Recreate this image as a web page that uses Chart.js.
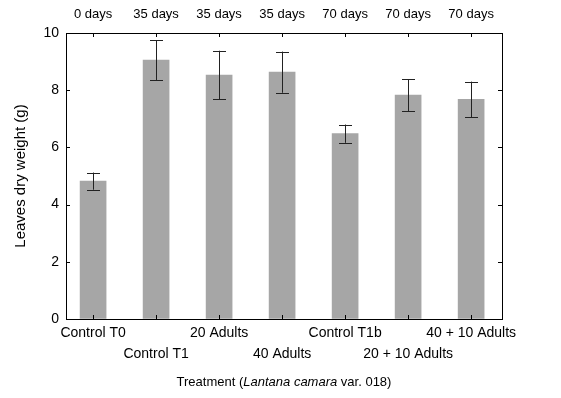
<!DOCTYPE html>
<html><head><meta charset="utf-8">
<script src="https://cdn.jsdelivr.net/npm/chart.js@4"></script>
<style>html,body{margin:0;padding:0;background:#fff}#wrap{width:561px;height:398px}</style>
</head><body><div id="wrap"><canvas id="c" width="561" height="398"></canvas></div>
<script>
// Leaves dry weight by treatment, mean with error bars
const treatments = ['Control T0', 'Control T1', '20 Adults', '40 Adults', 'Control T1b', '20 + 10 Adults', '40 + 10 Adults'];
const periods = ['0 days', '35 days', '35 days', '35 days', '70 days', '70 days', '70 days'];
const dryWeight = [4.82, 9.05, 8.53, 8.63, 6.48, 7.83, 7.68];
const errHalf = [0.30, 0.70, 0.85, 0.72, 0.32, 0.56, 0.62];
const yTickValues = [0, 2, 4, 6, 8, 10];

const FONT = 'Liberation Sans, Arial, sans-serif';
const catTicks = s => { s.ticks = treatments.map((_, i) => ({ value: i })); };

// Inward tick marks, error bars and the mixed-style x title
const decorations = {
  id: 'decorations',
  afterDatasetsDraw(chart) {
    const { ctx, chartArea: a, scales } = chart;
    const x = scales.x, y = scales.y;
    ctx.save();
    // error bars
    ctx.strokeStyle = '#222';
    ctx.lineWidth = 1;
    dryWeight.forEach((v, i) => {
      const px = Math.round(x.getPixelForValue(i)) + 0.5;
      const top = y.getPixelForValue(v + errHalf[i]);
      const bot = y.getPixelForValue(v - errHalf[i]);
      ctx.beginPath();
      ctx.moveTo(px, top); ctx.lineTo(px, bot);
      ctx.moveTo(px - 6.5, Math.round(top) + 0.5); ctx.lineTo(px + 6.5, Math.round(top) + 0.5);
      ctx.moveTo(px - 6.5, Math.round(bot) + 0.5); ctx.lineTo(px + 6.5, Math.round(bot) + 0.5);
      ctx.stroke();
    });
    // inward ticks
    ctx.strokeStyle = '#000';
    const t = 4;
    ctx.beginPath();
    treatments.forEach((_, i) => {
      const px = Math.round(x.getPixelForValue(i)) + 0.5;
      ctx.moveTo(px, a.top); ctx.lineTo(px, a.top + t);
      ctx.moveTo(px, a.bottom); ctx.lineTo(px, a.bottom - t);
    });
    yTickValues.forEach(v => {
      const py = Math.round(y.getPixelForValue(v)) + 0.5;
      ctx.moveTo(a.left, py); ctx.lineTo(a.left + t, py);
      ctx.moveTo(a.right, py); ctx.lineTo(a.right - t, py);
    });
    ctx.stroke();
    // x title with italic species name
    const parts = [
      ['Treatment (', 'normal'],
      ['Lantana camara', 'italic'],
      [' var. 018)', 'normal']
    ];
    ctx.fillStyle = '#000';
    ctx.textBaseline = 'middle';
    ctx.textAlign = 'left';
    let total = 0;
    parts.forEach(p => { ctx.font = p[1] + ' 13px ' + FONT; total += ctx.measureText(p[0]).width; });
    let cx = (a.left + a.right) / 2 - total / 2;
    parts.forEach(p => {
      ctx.font = p[1] + ' 13px ' + FONT;
      ctx.fillText(p[0], cx, 382);
      cx += ctx.measureText(p[0]).width;
    });
    ctx.restore();
  }
};

new Chart(document.getElementById('c'), {
  type: 'bar',
  data: {
    datasets: [{
      data: dryWeight.map((v, i) => ({ x: i, y: v })),
      backgroundColor: '#a6a6a6',
      barThickness: 26
    }]
  },
  options: {
    responsive: false,
    animation: false,
    layout: { padding: 0 },
    plugins: { legend: { display: false }, tooltip: { enabled: false } },
    scales: {
      x: {
        type: 'linear', position: 'bottom', min: -0.43, max: 6.49, offset: false,
        afterBuildTicks: catTicks,
        afterFit: s => { s.height = 79; },
        grid: { drawOnChartArea: false, drawTicks: false, offset: false },
        border: { color: '#000', width: 1 },
        ticks: {
          autoSkip: false, maxRotation: 0, padding: 4, color: '#000',
          font: { family: FONT, size: 14, lineHeight: 1.5 },
          callback: v => (v % 2 ? ['', treatments[v]] : treatments[v])
        }
      },
      xTop: {
        type: 'linear', position: 'top', min: -0.43, max: 6.49, offset: false,
        afterBuildTicks: catTicks,
        afterFit: s => { s.height = 33; },
        grid: { drawOnChartArea: false, drawTicks: false, offset: false },
        border: { color: '#000', width: 1 },
        ticks: {
          autoSkip: false, maxRotation: 0, padding: 11, color: '#000',
          font: { family: FONT, size: 13 },
          callback: v => periods[v]
        }
      },
      y: {
        position: 'left', min: 0, max: 10,
        afterFit: s => { s.width = 66; },
        grid: { drawOnChartArea: false, drawTicks: false },
        border: { color: '#000', width: 1 },
        ticks: { stepSize: 2, padding: 7, color: '#000', font: { family: FONT, size: 14 } },
        title: { display: true, text: 'Leaves dry weight (g)', color: '#000', font: { family: FONT, size: 15 }, padding: { top: 12, bottom: 0 } }
      },
      yR: {
        position: 'right', min: 0, max: 10,
        afterFit: s => { s.width = 59; },
        grid: { drawOnChartArea: false, drawTicks: false },
        border: { color: '#000', width: 1 },
        ticks: { display: false }
      }
    }
  },
  plugins: [decorations]
});
</script>
</body></html>
